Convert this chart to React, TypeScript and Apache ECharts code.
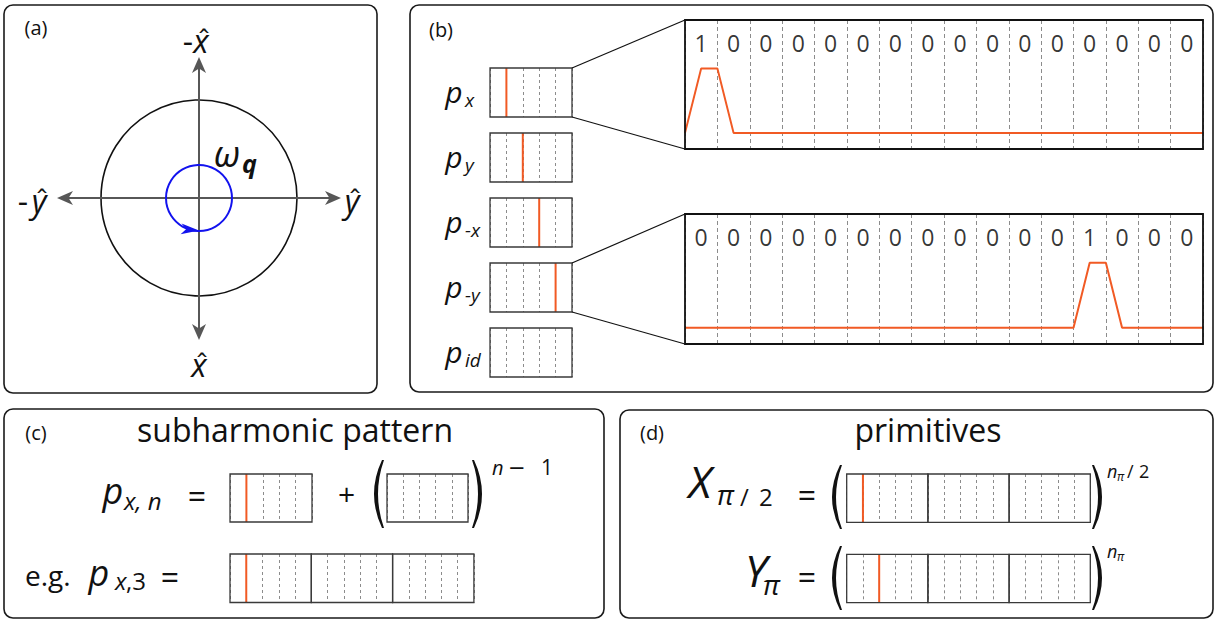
import React, { useEffect, useRef } from 'react';
import * as echarts from 'echarts';

const W = 1215;
const H = 619;
const FONT = '"Open Sans", "Noto Sans", "DejaVu Sans", sans-serif';
const INK = '#111111';
const RED = '#f15a24';
const AXIS_GRAY = '#575757';
const DASH_GRAY = '#8c8c8c';
const BLUE = '#1212ee';

// ---------------- data ----------------
const pulseNames = ['x', 'y', '-x', '-y', 'id'];
const pulseSlot: (number | null)[] = [1, 2, 3, 4, null];
const SLOT_COUNT = 5;
const bitsPx = [1, 0, 0, 0, 0, 0, 0, 0, 0, 0, 0, 0, 0, 0, 0, 0];
const bitsPmy = [0, 0, 0, 0, 0, 0, 0, 0, 0, 0, 0, 0, 1, 0, 0, 0];
const wavePx = [[0, 0], [0.5, 1], [1, 1], [1.5, 0], [16, 0]];
const wavePmy = [[0, 0], [12, 0], [12.5, 1], [13, 1], [13.5, 0], [16, 0]];
const subharmonicSingle: (number | null)[] = [1];
const subharmonicRepeat: (number | null)[] = [null];
const subharmonicExample: (number | null)[] = [1, null, null];
const primitiveX: (number | null)[] = [1, null, null];
const primitiveY: (number | null)[] = [2, null, null];

// ---------------- layout ----------------
const SMALL = { x: 490, w: 82, h: 49, tops: [68, 133, 198, 263, 328] };
const BIG = [
  { x: 685, y: 20, w: 518, h: 129 },
  { x: 685, y: 214, w: 518, h: 130 },
];
const DIGIT_Y = 1.39;
const CENTRAL = 0.385;

echarts.graphic.registerShape(
  'parenL',
  echarts.graphic.extendPath('M10,0 Q-6,32 10,64 L12,64 Q0,32 12,0 Z', {})
);
echarts.graphic.registerShape(
  'parenR',
  echarts.graphic.extendPath('M2,0 Q18,32 2,64 L0,64 Q12,32 0,0 Z', {})
);

function txt(x: number, baseline: number, text: string, size: number, o: any = {}) {
  return {
    type: 'text',
    x,
    y: baseline - CENTRAL * size,
    z: 20,
    silent: true,
    style: {
      text,
      fontSize: size,
      fontFamily: FONT,
      fontStyle: o.it ? 'italic' : 'normal',
      fontWeight: o.bold ? 'bold' : 'normal',
      fill: o.color || INK,
      align: o.align || 'center',
      verticalAlign: 'middle',
    },
  };
}

function arrowHead(tx: number, ty: number, dx: number, dy: number, len: number, half: number, color: string) {
  const nx = -dy;
  const ny = dx;
  const bx = tx - dx * len;
  const by = ty - dy * len;
  const mx = tx - dx * len * 0.72;
  const my = ty - dy * len * 0.72;
  return {
    type: 'polygon',
    z: 12,
    silent: true,
    shape: { points: [[tx, ty], [bx + nx * half, by + ny * half], [mx, my], [bx - nx * half, by - ny * half]] },
    style: { fill: color, stroke: 'none' },
  };
}

function buildOption() {
  const grid: any[] = [];
  const xAxis: any[] = [];
  const yAxis: any[] = [];
  const series: any[] = [];
  const g: any[] = [];

  const frame = (x: number, y: number, w: number, h: number, stroke = '#3a3a3a', lw = 1.3) =>
    g.push({ type: 'rect', z: 10, silent: true, shape: { x, y, width: w, height: h }, style: { fill: 'none', stroke, lineWidth: lw } });

  const addCells = (x: number, y: number, w: number, h: number, cells: number, ymin: number, ymax: number, dash: number[]) => {
    const i = grid.length;
    grid.push({ left: x, top: y, width: w, height: h, show: false });
    xAxis.push({
      gridIndex: i, type: 'value', min: 0, max: cells, interval: 1,
      axisLine: { show: false }, axisTick: { show: false }, axisLabel: { show: false },
      splitLine: { show: true, lineStyle: { color: DASH_GRAY, width: 1, type: dash } },
    });
    yAxis.push({ gridIndex: i, type: 'value', min: ymin, max: ymax, show: false, splitLine: { show: false } });
    return i;
  };

  const pulseBox = (x: number, y: number, w: number, h: number, slot: number | null) => {
    const i = addCells(x, y, w, h, SLOT_COUNT, 0, 1, [3, 3]);
    if (slot != null) {
      series.push({
        type: 'line', xAxisIndex: i, yAxisIndex: i, data: [[slot, 0], [slot, 1]],
        symbol: 'none', lineStyle: { color: RED, width: 2 }, silent: true,
      });
    }
    frame(x, y, w, h);
  };
  const pulseRow = (x0: number, y: number, wEach: number, h: number, slots: (number | null)[]) =>
    slots.forEach((s, k) => pulseBox(x0 + k * wEach, y, wEach, h, s));

  const bigPlot = (r: any, wave: number[][], bits: number[]) => {
    const i = addCells(r.x, r.y, r.w, r.h, bits.length, -0.25, 1.75, [4, 3]);
    series.push({
      type: 'line', xAxisIndex: i, yAxisIndex: i, data: wave, symbol: 'none',
      lineStyle: { color: RED, width: 2 }, silent: true,
    });
    series.push({
      type: 'scatter', xAxisIndex: i, yAxisIndex: i,
      data: bits.map((b, k) => [k + 0.5, DIGIT_Y, b]),
      symbolSize: 1, itemStyle: { color: 'transparent' }, silent: true,
      label: {
        show: true, position: 'inside', formatter: (p: any) => String(p.value[2]),
        fontSize: 23, fontFamily: FONT, color: '#000',
      },
    });
    frame(r.x, r.y, r.w, r.h, INK, 1.8);
  };

  // panel frames
  const panels = [
    [4, 5, 373, 388],
    [410, 5, 803, 387],
    [4, 409, 600, 209],
    [620, 410, 593, 208],
  ];
  panels.forEach(([x, y, w, h]) =>
    g.push({ type: 'rect', z: 9, silent: true, shape: { x, y, width: w, height: h, r: 9 }, style: { fill: 'none', stroke: '#1a1a1a', lineWidth: 1.6 } })
  );

  // ---- (a) ----
  g.push(txt(36, 35, '(a)', 20));
  g.push({ type: 'circle', z: 11, silent: true, shape: { cx: 199, cy: 198, r: 98 }, style: { fill: 'none', stroke: INK, lineWidth: 1.6 } });
  g.push({ type: 'line', z: 11, silent: true, shape: { x1: 199, y1: 68, x2: 199, y2: 329 }, style: { stroke: AXIS_GRAY, lineWidth: 2 } });
  g.push({ type: 'line', z: 11, silent: true, shape: { x1: 68, y1: 198, x2: 330, y2: 198 }, style: { stroke: AXIS_GRAY, lineWidth: 2 } });
  g.push(arrowHead(199, 57, 0, -1, 16, 7, AXIS_GRAY));
  g.push(arrowHead(199, 340, 0, 1, 16, 7, AXIS_GRAY));
  g.push(arrowHead(57, 198, -1, 0, 16, 7, AXIS_GRAY));
  g.push(arrowHead(341, 198, 1, 0, 16, 7, AXIS_GRAY));
  g.push({ type: 'circle', z: 11, silent: true, shape: { cx: 199, cy: 198, r: 33 }, style: { fill: 'none', stroke: BLUE, lineWidth: 2 } });
  g.push(arrowHead(199, 230.5, 0.996, 0.09, 18, 5.5, BLUE));
  g.push(txt(188, 53, '-', 32));
  g.push(txt(201, 53, 'x', 32, { it: true }));
  g.push(txt(204, 50, '\u02C6', 28));
  g.push(txt(199, 377, 'x', 32, { it: true }));
  g.push(txt(202, 374, '\u02C6', 28));
  g.push(txt(23, 213, '-', 32));
  g.push(txt(39, 213, 'y', 32, { it: true }));
  g.push(txt(42, 210, '\u02C6', 28));
  g.push(txt(352, 213, 'y', 32, { it: true }));
  g.push(txt(355, 210, '\u02C6', 28));
  g.push(txt(227, 167, 'ω', 36, { it: true }));
  g.push(txt(249.5, 173, 'q', 25, { it: true, bold: true }));

  // ---- (b) ----
  g.push(txt(441, 37, '(b)', 20));
  SMALL.tops.forEach((top, k) => {
    pulseBox(SMALL.x, top, SMALL.w, SMALL.h, pulseSlot[k]);
    g.push(txt(454, top + 35, 'p', 30, { it: true }));
    g.push(txt(465, top + 39, pulseNames[k], 19, { it: true, align: 'left' }));
  });
  const conn = (x1: number, y1: number, x2: number, y2: number) =>
    g.push({ type: 'line', z: 11, silent: true, shape: { x1, y1, x2, y2 }, style: { stroke: INK, lineWidth: 1.2 } });
  const sx2 = SMALL.x + SMALL.w;
  conn(sx2, SMALL.tops[0], BIG[0].x, BIG[0].y);
  conn(sx2, SMALL.tops[0] + SMALL.h, BIG[0].x, BIG[0].y + BIG[0].h);
  conn(sx2, SMALL.tops[3], BIG[1].x, BIG[1].y);
  conn(sx2, SMALL.tops[3] + SMALL.h, BIG[1].x, BIG[1].y + BIG[1].h);
  bigPlot(BIG[0], wavePx, bitsPx);
  bigPlot(BIG[1], wavePmy, bitsPmy);

  // ---- (c) ----
  g.push(txt(36, 440, '(c)', 20));
  g.push(txt(295, 442, 'subharmonic pattern', 32));
  g.push(txt(113, 504, 'p', 36, { it: true }));
  g.push(txt(124, 510, 'x, n', 24, { it: true, align: 'left' }));
  g.push(txt(197, 508, '=', 32));
  pulseRow(230, 474, 82, 48, subharmonicSingle);
  g.push(txt(346.7, 505, '+', 30));
  g.push({ type: 'parenL', z: 20, silent: true, x: 372, y: 460, scaleY: 68 / 64, style: { fill: INK } });
  pulseRow(387, 474, 81, 48, subharmonicRepeat);
  g.push({ type: 'parenR', z: 20, silent: true, x: 472, y: 460, scaleY: 68 / 64, style: { fill: INK } });
  g.push(txt(492, 475, 'n', 20, { it: true, align: 'left' }));
  g.push(txt(517, 477.5, '\u2212', 28));
  g.push(txt(547, 475, '1', 21));
  g.push(txt(25, 586, 'e.g.', 28, { align: 'left' }));
  g.push(txt(99, 586, 'p', 36, { it: true }));
  g.push(txt(115, 590, 'x', 24, { it: true, align: 'left' }));
  g.push(txt(126, 590, ',3', 24, { align: 'left' }));
  g.push(txt(170, 589, '=', 32));
  pulseRow(230, 554, 81.3, 48.5, subharmonicExample);

  // ---- (d) ----
  g.push(txt(652, 440, '(d)', 20));
  g.push(txt(928, 442, 'primitives', 32));
  g.push(txt(700, 498, 'X', 44, { it: true }));
  g.push(txt(717, 505, 'π', 28, { it: true, align: 'left' }));
  g.push(txt(740, 506, '/', 24, { align: 'left' }));
  g.push(txt(759, 506, '2', 24, { align: 'left' }));
  g.push(txt(807, 507, '=', 32));
  g.push({ type: 'parenL', z: 20, silent: true, x: 830, y: 465, style: { fill: INK } });
  pulseRow(846.7, 474, 81.2, 48.3, primitiveX);
  g.push({ type: 'parenR', z: 20, silent: true, x: 1092, y: 465, style: { fill: INK } });
  g.push(txt(1107, 478, 'n', 18, { it: true, align: 'left' }));
  g.push(txt(1117, 481, 'π', 12, { it: true, align: 'left' }));
  g.push(txt(1127, 478, '/', 18, { align: 'left' }));
  g.push(txt(1139, 478, '2', 18, { align: 'left' }));

  g.push(txt(756, 587, 'Y', 44, { it: true }));
  g.push(txt(763, 595, 'π', 28, { it: true, align: 'left' }));
  g.push(txt(807, 589, '=', 32));
  g.push({ type: 'parenL', z: 20, silent: true, x: 830, y: 546, style: { fill: INK } });
  pulseRow(846.7, 554.3, 81.2, 48.4, primitiveY);
  g.push({ type: 'parenR', z: 20, silent: true, x: 1092, y: 546, style: { fill: INK } });
  g.push(txt(1107, 558, 'n', 18, { it: true, align: 'left' }));
  g.push(txt(1117, 561, 'π', 12, { it: true, align: 'left' }));

  return {
    animation: false,
    backgroundColor: '#ffffff',
    grid,
    xAxis,
    yAxis,
    series,
    graphic: { elements: g },
  };
}

export default function App() {
  const ref = useRef<HTMLDivElement>(null);
  useEffect(() => {
    const chart = echarts.init(ref.current!, null, { renderer: 'svg', width: W, height: H });
    chart.setOption(buildOption() as any);
    return () => chart.dispose();
  }, []);
  return (
    <div
      ref={ref}
      style={{ position: 'absolute', left: 0, top: 0, width: W, height: H, background: '#fff' }}
    />
  );
}
